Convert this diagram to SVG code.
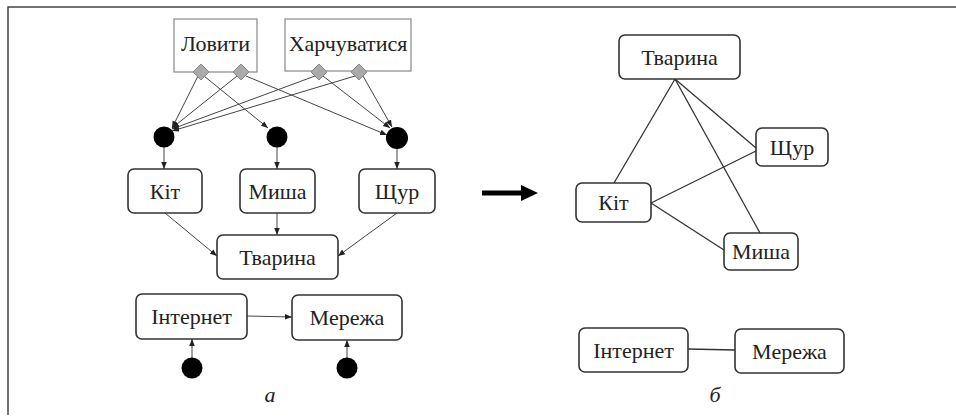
<svg xmlns="http://www.w3.org/2000/svg" width="956" height="417" viewBox="0 0 956 417" font-family="'Liberation Serif', 'DejaVu Serif', serif">
<style>
text{font-size:22px;fill:#222;text-anchor:middle;dominant-baseline:central}
.nb{fill:#fff;stroke:#333;stroke-width:1.6}
.sq{fill:#fff;stroke:#888;stroke-width:1.2}
.dm{fill:#aaa;stroke:#888;stroke-width:1}
.dot{fill:#000}
.e{fill:none;stroke:#444;stroke-width:1;marker-end:url(#ah)}
.l{fill:none;stroke:#333;stroke-width:1.3}
.cap{font-style:italic}
</style>
<defs>
<marker id="ah" viewBox="0 0 10 10" refX="10" refY="5" markerWidth="7" markerHeight="7" markerUnits="userSpaceOnUse" orient="auto">
<path d="M0,1 L10,5 L0,9 z" fill="#222"/>
</marker>
</defs>
<rect width="956" height="417" fill="#fff"/>
<path d="M8,415 L8,7 L956,7" fill="none" stroke="#444" stroke-width="1.5"/>

<g id="connectors">
<path class="e" d="M198,76 L172,128"/>
<path class="e" d="M204,76 L268,128"/>
<path class="e" d="M237,76 L172,128"/>
<path class="e" d="M246,76 L387,135"/>
<path class="e" d="M315,76 L172,129"/>
<path class="e" d="M323,76 L390,128"/>
<path class="e" d="M355,76 L172,131"/>
<path class="e" d="M363,76 L392,127"/>
<path class="e" d="M164,147 L164,169"/>
<path class="e" d="M277,147 L277,169"/>
<path class="e" d="M397,148 L397,169"/>
<path class="e" d="M165,213 L217,256"/>
<path class="e" d="M277,213 L277,235"/>
<path class="e" d="M397,213 L338,256"/>
<path class="e" d="M247,316 L292,317"/>
<path class="e" d="M192,358 L192,339"/>
<path class="e" d="M347,358 L347,340"/>
<path class="l" d="M675,79 L614,183"/>
<path class="l" d="M675,79 L756,148"/>
<path class="l" d="M675,79 L760,233"/>
<path class="l" d="M651,203 L756,151"/>
<path class="l" d="M651,203 L724,250"/>
<path class="l" d="M688,349 L735,350"/>
</g>

<g id="arrow"><path d="M482,193 L524,193" stroke="#000" stroke-width="5"/><path d="M521,185 L538,193 L521,201 z" fill="#000"/></g>

<g id="lovyty"><rect class="sq" x="174" y="19" width="83" height="53"/><text x="215.5" y="43">Ловити</text>
<path class="dm" d="M201,64 L209,72 L201,80 L193,72 z"/><path class="dm" d="M241,64 L249,72 L241,80 L233,72 z"/></g>
<g id="kharch"><rect class="sq" x="285" y="19" width="126" height="52"/><text x="348" y="43">Харчуватися</text>
<path class="dm" d="M319,64 L327,72 L319,80 L311,72 z"/><path class="dm" d="M359,64 L367,72 L359,80 L351,72 z"/></g>

<g id="dot1"><circle class="dot" cx="164" cy="137" r="10.5"/></g>
<g id="dot2"><circle class="dot" cx="277" cy="137" r="10.5"/></g>
<g id="dot3"><circle class="dot" cx="397" cy="138" r="11"/></g>
<g id="dot4"><circle class="dot" cx="192" cy="368" r="10.5"/></g>
<g id="dot5"><circle class="dot" cx="347" cy="368" r="10.5"/></g>

<g id="kit-a"><rect class="nb" x="128" y="169" width="74" height="44" rx="6"/><text x="165" y="191">Кіт</text></g>
<g id="mysha-a"><rect class="nb" x="240" y="169" width="75" height="44" rx="6"/><text x="277.5" y="191">Миша</text></g>
<g id="shchur-a"><rect class="nb" x="359" y="169" width="76" height="44" rx="6"/><text x="397" y="191">Щур</text></g>
<g id="tvaryna-a"><rect class="nb" x="217" y="235" width="121" height="44" rx="6"/><text x="277.5" y="257">Тварина</text></g>
<g id="internet-a"><rect class="nb" x="136" y="294" width="111" height="45" rx="6"/><text x="191.5" y="316.5">Інтернет</text></g>
<g id="merezha-a"><rect class="nb" x="292" y="295" width="110" height="45" rx="6"/><text x="347" y="317.5">Мережа</text></g>
<text class="cap" x="270" y="394">а</text>

<g id="tvaryna-b"><rect class="nb" x="619" y="35" width="121" height="44" rx="6"/><text x="679.5" y="57">Тварина</text></g>
<g id="shchur-b"><rect class="nb" x="756" y="128" width="72" height="38" rx="6"/><text x="792" y="147">Щур</text></g>
<g id="kit-b"><rect class="nb" x="576" y="183" width="75" height="39" rx="6"/><text x="613.5" y="202.5">Кіт</text></g>
<g id="mysha-b"><rect class="nb" x="724" y="233" width="74" height="37" rx="6"/><text x="761" y="251.5">Миша</text></g>
<g id="internet-b"><rect class="nb" x="579" y="328" width="109" height="44" rx="6"/><text x="633.5" y="350">Інтернет</text></g>
<g id="merezha-b"><rect class="nb" x="735" y="329" width="109" height="44" rx="6"/><text x="789.5" y="351">Мережа</text></g>
<text class="cap" x="715" y="394">б</text>
</svg>
